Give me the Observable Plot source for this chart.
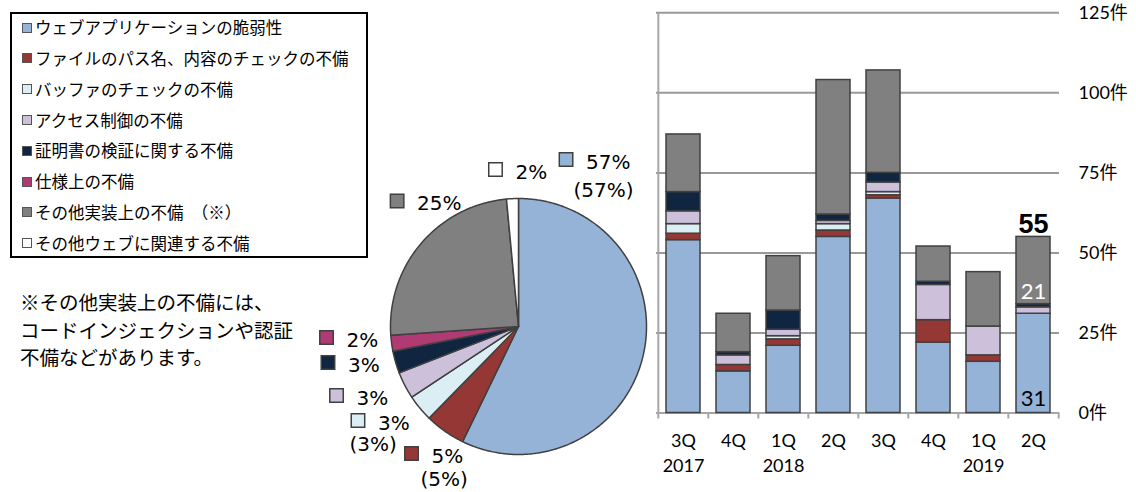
<!DOCTYPE html>
<html>
<head>
<meta charset="utf-8">
<script src="https://cdn.jsdelivr.net/npm/d3@7"></script>
<script src="https://cdn.jsdelivr.net/npm/@observablehq/plot@0.6"></script>
<style>
  html, body { margin: 0; padding: 0; background: #ffffff; }
  #wrap { position: relative; width: 1136px; height: 492px; overflow: hidden; background: #fff;
          font-family: "Noto Sans CJK JP", sans-serif; color: #000; }
  #wrap > svg, #wrap > figure { position: absolute; left: 0; top: 0; margin: 0; }
  .legbox { position: absolute; box-sizing: border-box; border: 2px solid #000; }
  .legrow { position: absolute; white-space: nowrap; font-size: 16.5px; line-height: 30.8px; }
  .legsw { position: absolute; box-sizing: border-box; width: 10px; height: 10px; border: 1px solid #555; }
  .note { position: absolute; white-space: nowrap; font-size: 19.5px; line-height: 27.6px; }
</style>
</head>
<body>
<div id="wrap"></div>
<script>
// ---------------- data ----------------
const seriesNames = [
  "ウェブアプリケーションの脆弱性",
  "ファイルのパス名、内容のチェックの不備",
  "バッファのチェックの不備",
  "アクセス制御の不備",
  "証明書の検証に関する不備",
  "仕様上の不備",
  "その他実装上の不備　（※）",
  "その他ウェブに関連する不備"
];
const seriesColors = ["#95B3D7", "#953735", "#DBEEF4", "#CCC0DA", "#10253F", "#B03A74", "#808080", "#FFFFFF"];

const quarters = ["3Q 2017", "4Q 2017", "1Q 2018", "2Q 2018", "3Q 2018", "4Q 2018", "1Q 2019", "2Q 2019"];
const quarterLabels = ["3Q\n2017", "4Q", "1Q\n2018", "2Q", "3Q", "4Q", "1Q\n2019", "2Q"];

const webApp    = [54, 13, 21, 55, 67, 22, 16, 31];
const filePath  = [ 2,  2,  2,  2,  1,  7,  2,  0];
const buffer    = [ 3,  0,  1,  2,  1,  0,  0,  0];
const access    = [ 4,  3,  2,  1,  3, 11,  9,  2];
const cert      = [ 6,  1,  6,  2,  3,  1,  0,  1];
const spec      = [ 0,  0,  0,  0,  0,  0,  0,  0];
const otherImpl = [18, 12, 17, 42, 32, 11, 17, 21];
const otherWeb  = [ 0,  0,  0,  0,  0,  0,  0,  0];

const yTicks = [0, 25, 50, 75, 100, 125];
const yUnit = "件";

const pieShares  = [57.2, 5.1, 3.4, 3.4, 2.8, 2.0, 24.6, 1.5];
const pieLabels  = ["57%", "5%", "3%", "3%", "3%", "2%", "25%", "2%"];
const pieLabels2 = ["(57%)", "(5%)", "(3%)", "", "", "", "", ""];

const noteLines = ["※その他実装上の不備には、", "コードインジェクションや認証", "不備などがあります。"];

// ---------------- layout (styles / positions) ----------------
const W = 1136, H = 492;
const barLeft = 656, barRight = 1059, barTop = 12.3, barBottom = 412.5;
const pieCx = 518, pieCy = 326, pieR = 128;
// label nudges (px) from each slice's outer mid point to its swatch centre
const pieNudge = [[-77.2, -195.7], [-33.4, 22.3], [-61.9, 12.4], [-68.3, 10.1], [-67.6, 0.3], [-65.1, -5.9], [-23.8, -42.7], [-17, -29.1]];
// second-line offsets (px) from swatch centre
const pieLine2Off = [[7.5, 31], [9, 26.5], [-8.5, 24], null, null, null, null, null];

const wrap = document.getElementById("wrap");

// ---------------- pie chart ----------------
const pieData = seriesNames.map((s, i) => ({s, share: pieShares[i], i}));
const arcs = d3.pie().sort(null).value(d => d.share)(pieData);
const piePts = arcs.flatMap(a => {
  const pts = [{s: a.data.s, x: 0, y: 0}];
  const n = Math.max(2, Math.ceil((a.endAngle - a.startAngle) / 0.01));
  for (let k = 0; k <= n; k++) {
    const t = a.startAngle + (a.endAngle - a.startAngle) * k / n;
    pts.push({s: a.data.s, x: Math.sin(t), y: Math.cos(t)});
  }
  pts.push({s: a.data.s, x: 0, y: 0});
  return pts;
});
const pieLab = arcs.map((a, i) => {
  const m = (a.startAngle + a.endAngle) / 2;
  const sx = Math.sin(m) + pieNudge[i][0] / pieR;
  const sy = Math.cos(m) - pieNudge[i][1] / pieR;
  return {s: a.data.s, sx, sy, t1: pieLabels[i], t2: pieLabels2[i], off2: pieLine2Off[i]};
});
const pieText1 = pieLab.map(d => ({x: d.sx + 20 / pieR, y: d.sy - 3 / pieR, t: d.t1}));
const pieText2 = pieLab.filter(d => d.t2).map(d => ({x: d.sx + d.off2[0] / pieR, y: d.sy - d.off2[1] / pieR, t: d.t2}));

const piePlot = Plot.plot({
  width: W, height: H,
  marginLeft: 0, marginRight: 0, marginTop: 0, marginBottom: 0,
  x: {domain: [-1, 1], range: [pieCx - pieR, pieCx + pieR], axis: null},
  y: {domain: [-1, 1], range: [pieCy + pieR, pieCy - pieR], axis: null},
  color: {domain: seriesNames, range: seriesColors},
  style: {background: "transparent", overflow: "visible"},
  marks: [
    Plot.line(piePts, {x: "x", y: "y", z: "s", fill: "s", stroke: "#404040", strokeWidth: 1.5, strokeLinejoin: "round"}),
    Plot.dot(pieLab, {x: "sx", y: "sy", fill: "s", stroke: "#404040", strokeWidth: 1.5, symbol: "square", r: 7.6}),
    Plot.text(pieText1, {x: "x", y: "y", text: "t", textAnchor: "start", lineAnchor: "middle",
      fontFamily: "DejaVu Sans", fontSize: 20, fill: "#000"}),
    Plot.text(pieText2, {x: "x", y: "y", text: "t", textAnchor: "start", lineAnchor: "middle",
      fontFamily: "DejaVu Sans", fontSize: 20, fill: "#000"})
  ]
});
wrap.appendChild(piePlot);

// ---------------- stacked bar chart ----------------
const seriesValues = [webApp, filePath, buffer, access, cert, spec, otherImpl, otherWeb];
const rows = [];
seriesNames.forEach((s, si) => quarters.forEach((q, qi) => {
  const v = seriesValues[si][qi];
  if (v > 0) rows.push({q, s, v});
}));
const totals = quarters.map((q, qi) => ({q, total: d3.sum(seriesValues, arr => arr[qi])}));
const li = quarters.length - 1;
const lastQ = quarters[li];
const lastTotal = totals[li].total;
const greyBase = lastTotal - otherImpl[li] - otherWeb[li];

const step = (barRight - barLeft) / quarters.length;
const frameH = barBottom - barTop;
const axisFont = 'Lato, "Noto Sans CJK JP", sans-serif';

const barPlot = Plot.plot({
  width: W, height: H,
  marginLeft: barLeft, marginRight: W - barRight, marginTop: barTop, marginBottom: H - barBottom,
  x: {domain: quarters, paddingInner: 0.32, paddingOuter: 0.16},
  y: {domain: [0, 125]},
  color: {domain: seriesNames, range: seriesColors},
  style: {background: "transparent", overflow: "visible", fontFamily: axisFont},
  marks: [
    Plot.ruleY(yTicks.filter(d => d > 0), {stroke: "#999", strokeWidth: 2}),
    Plot.ruleX(quarters.slice(0, 1), {x: d => d, dx: -step / 2, insetBottom: -6, stroke: "#a6a6a6", strokeWidth: 2}),
    Plot.ruleX(quarters.slice(1), {x: d => d, dx: -step / 2, insetTop: frameH, insetBottom: -6, stroke: "#a6a6a6", strokeWidth: 2}),
    Plot.ruleX([lastQ], {x: d => d, dx: step / 2, insetTop: frameH, insetBottom: -6, stroke: "#a6a6a6", strokeWidth: 2}),
    Plot.ruleY([0], {stroke: "#a6a6a6", strokeWidth: 2}),
    Plot.barY(rows, {x: "q", y: "v", fill: "s", stroke: "#404040", strokeWidth: 1.5}),
    Plot.text([totals[li]], {x: "q", y: "total", text: d => String(d.total), dy: -13,
      fontFamily: "Liberation Sans", fontWeight: "bold", fontSize: 27, fill: "#000"}),
    Plot.text([{q: lastQ, y: greyBase, t: String(otherImpl[li])}], {x: "q", y: "y", text: "t", dy: -12,
      fontFamily: axisFont, fontSize: 22, fill: "#fff"}),
    Plot.text([{q: lastQ, y: 0, t: String(webApp[li])}], {x: "q", y: "y", text: "t", dy: -14,
      fontFamily: axisFont, fontSize: 22, fill: "#000"}),
    Plot.axisX({tickSize: 0, tickPadding: 17, label: null, fontSize: 18, lineHeight: 1.35,
      tickFormat: (d, i) => quarterLabels[quarters.indexOf(d)]}),
    Plot.axisY({anchor: "right", ticks: yTicks, tickSize: 0, tickPadding: 19, label: null, fontSize: 18,
      tickFormat: d => d + yUnit})
  ]
});
wrap.appendChild(barPlot);

// ---------------- legend (HTML) ----------------
const box = document.createElement("div");
box.className = "legbox";
Object.assign(box.style, {left: "10px", top: "12px", width: "358px", height: "246px"});
wrap.appendChild(box);
seriesNames.forEach((s, i) => {
  const cy = 27.5 + i * 30.8;
  const sw = document.createElement("div");
  sw.className = "legsw";
  Object.assign(sw.style, {left: "22px", top: (cy - 5) + "px", background: seriesColors[i]});
  wrap.appendChild(sw);
  const t = document.createElement("div");
  t.className = "legrow";
  t.textContent = s;
  Object.assign(t.style, {left: "35px", top: (cy - 15.4) + "px"});
  wrap.appendChild(t);
});

// ---------------- note ----------------
noteLines.forEach((line, i) => {
  const d = document.createElement("div");
  d.className = "note";
  d.textContent = line;
  Object.assign(d.style, {left: "20px", top: (288 + i * 27.6) + "px"});
  wrap.appendChild(d);
});
</script>
</body>
</html>
